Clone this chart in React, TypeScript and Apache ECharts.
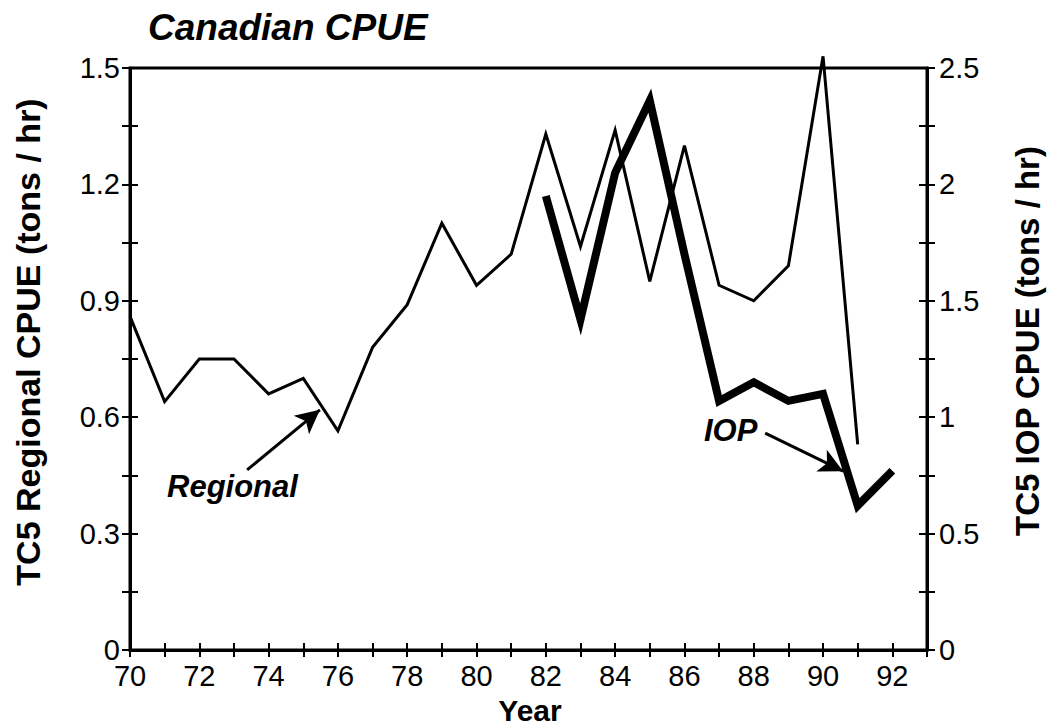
import React, { useEffect, useRef } from "react";
import * as echarts from "echarts";

const regionalYears = [70, 71, 72, 73, 74, 75, 76, 77, 78, 79, 80, 81, 82, 83, 84, 85, 86, 87, 88, 89, 90, 91];
const regionalCpue = [0.86, 0.64, 0.75, 0.75, 0.66, 0.70, 0.565, 0.78, 0.89, 1.10, 0.94, 1.02, 1.33, 1.04, 1.34, 0.95, 1.30, 0.94, 0.90, 0.99, 1.53, 0.53];
const iopYears = [82, 83, 84, 85, 86, 87, 88, 89, 90, 91, 92];
const iopCpue = [1.95, 1.42, 2.05, 2.36, 1.70, 1.07, 1.15, 1.07, 1.10, 0.62, 0.77];

const FONT = '"Liberation Sans", Arial, Helvetica, sans-serif';

export default function App() {
  const ref = useRef<HTMLDivElement>(null);
  useEffect(() => {
    document.body.style.margin = "0";
    const chart = echarts.init(ref.current!, null, { renderer: "svg" });
    const leftFmt = (v: number) => {
      const k = Math.round(v / 0.15);
      return k % 2 === 0 ? String(+v.toFixed(1)) : "";
    };
    const rightFmt = (v: number) => {
      const k = Math.round(v / 0.25);
      return k % 2 === 0 ? String(+v.toFixed(1)) : "";
    };
    const xFmt = (v: number) => (v % 2 === 0 && v <= 92 ? String(v) : "");
    const axisLine = { show: true, lineStyle: { color: "#000", width: 3 } };
    const tickStyle = { color: "#000", width: 2 };
    const labelBase = { color: "#000", fontSize: 29, fontFamily: FONT, lineHeight: 24 };
    chart.setOption({
      animation: false,
      backgroundColor: "#fff",
      grid: { left: 130, right: 133, top: 68, bottom: 76, show: true, borderColor: "#000", borderWidth: 3 },
      xAxis: [
        {
          type: "value", min: 70, max: 93, interval: 1, position: "bottom",
          axisLine, axisTick: { show: true, length: 7, lineStyle: tickStyle },
          axisLabel: { ...labelBase, formatter: xFmt, margin: 14 },
          splitLine: { show: false },
        },
        {
          type: "value", min: 70, max: 93, interval: 1, position: "bottom",
          axisLine: { show: false }, axisTick: { show: true, inside: true, length: 7, lineStyle: tickStyle },
          axisLabel: { show: false }, splitLine: { show: false },
        },
      ],
      yAxis: [
        {
          type: "value", min: 0, max: 1.5, interval: 0.15, position: "left",
          axisLine, axisTick: { show: true, length: 8, lineStyle: tickStyle },
          axisLabel: { ...labelBase, formatter: leftFmt, margin: 10 },
          splitLine: { show: false },
        },
        {
          type: "value", min: 0, max: 2.5, interval: 0.25, position: "right",
          axisLine, axisTick: { show: true, length: 8, lineStyle: tickStyle },
          axisLabel: { ...labelBase, formatter: rightFmt, margin: 12 },
          splitLine: { show: false },
        },
        {
          type: "value", min: 0, max: 1.5, interval: 0.15, position: "left",
          axisLine: { show: false }, axisTick: { show: true, inside: true, length: 8, lineStyle: tickStyle },
          axisLabel: { show: false }, splitLine: { show: false },
        },
        {
          type: "value", min: 0, max: 2.5, interval: 0.25, position: "right",
          axisLine: { show: false }, axisTick: { show: true, inside: true, length: 8, lineStyle: tickStyle },
          axisLabel: { show: false }, splitLine: { show: false },
        },
      ],
      series: [
        {
          name: "Regional", type: "line", xAxisIndex: 0, yAxisIndex: 0,
          data: regionalYears.map((y, i) => [y, regionalCpue[i]]),
          showSymbol: false, symbol: "none", clip: false,
          lineStyle: { color: "#000", width: 3, join: "miter" },
          markLine: {
            silent: true, symbol: ["none", "arrow"], symbolSize: [18, 24],
            lineStyle: { color: "#000", width: 3, type: "solid" },
            label: { show: false },
            data: [
              [{ coord: [73.38, 0.464] }, { coord: [75.48, 0.619] }],
              [{ coord: [88.33, 0.559] }, { coord: [90.58, 0.461] }],
            ],
          },
        },
        {
          name: "IOP", type: "line", xAxisIndex: 0, yAxisIndex: 1,
          data: iopYears.map((y, i) => [y, iopCpue[i]]),
          showSymbol: false, symbol: "none", clip: false,
          lineStyle: { color: "#000", width: 8, join: "miter" },
        },
      ],
      graphic: [
        { type: "text", x: 148, y: 27, style: { text: "Canadian CPUE", font: `italic bold 37px ${FONT}`, fill: "#000", textAlign: "left", textVerticalAlign: "middle" } },
        { type: "text", x: 28, y: 342, rotation: Math.PI / 2, style: { text: "TC5 Regional CPUE (tons / hr)", font: `bold 34px ${FONT}`, fill: "#000", textAlign: "center", textVerticalAlign: "middle" } },
        { type: "text", x: 1027, y: 341, rotation: Math.PI / 2, style: { text: "TC5 IOP CPUE (tons / hr)", font: `bold 33px ${FONT}`, fill: "#000", textAlign: "center", textVerticalAlign: "middle" } },
        { type: "text", x: 530, y: 710, style: { text: "Year", font: `bold 30px ${FONT}`, fill: "#000", textAlign: "center", textVerticalAlign: "middle" } },
        { type: "text", x: 167, y: 486, style: { text: "Regional", font: `italic bold 31px ${FONT}`, fill: "#000", textAlign: "left", textVerticalAlign: "middle" } },
        { type: "text", x: 704, y: 430, style: { text: "IOP", font: `italic bold 31px ${FONT}`, fill: "#000", textAlign: "left", textVerticalAlign: "middle" } },
      ],
    });
    return () => chart.dispose();
  }, []);
  return <div ref={ref} style={{ width: 1060, height: 726 }} />;
}
